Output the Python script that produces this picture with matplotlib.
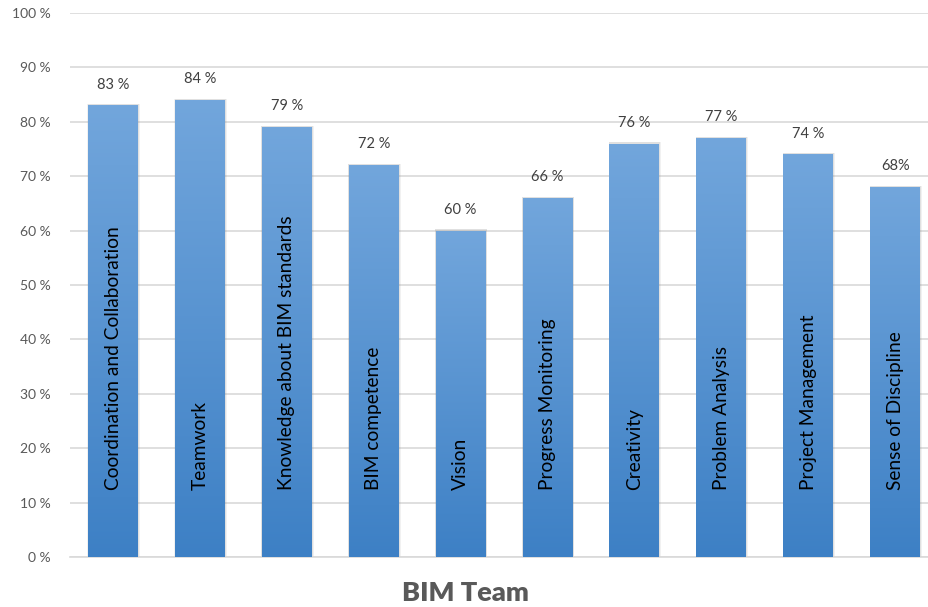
import numpy as np
import matplotlib
matplotlib.use("Agg")
import matplotlib.pyplot as plt
from matplotlib.patches import Rectangle
from matplotlib.colors import LinearSegmentedColormap

plt.rcParams["font.family"] = ["Lato", "DejaVu Sans"]

# ------------------------------------------------------------------ data
skills = [
    "Coordination and Collaboration",
    "Teamwork",
    "Knowledge about BIM standards",
    "BIM competence",
    "Vision",
    "Progress Monitoring",
    "Creativity",
    "Problem Analysis",
    "Project Management",
    "Sense of Discipline",
]
scores = [83, 84, 79, 72, 60, 66, 76, 77, 74, 68]
score_labels = ["83 %", "84 %", "79 %", "72 %", "60 %", "66 %", "76 %", "77 %", "74 %", "68%"]
yticks = [0, 10, 20, 30, 40, 50, 60, 70, 80, 90, 100]

# ---------------------------------------------------------------- styling
TOP_BLUE = "#72a6dc"
BOT_BLUE = "#3d80c5"
GRID = "#d9d9d9"
TICK_TXT = "#595959"
VAL_TXT = "#404040"
BAR_W = 0.575

fig = plt.figure(figsize=(9.29, 6.07), dpi=100)
ax = fig.add_axes([70 / 929, 50 / 607, 859 / 929, 544 / 607])

grad = LinearSegmentedColormap.from_list("bar", [BOT_BLUE, TOP_BLUE])
ramp = np.linspace(0, 1, 256).reshape(-1, 1)

x = np.arange(len(skills))
for xi, val, lab, name in zip(x, scores, score_labels, skills):
    left = xi - BAR_W / 2
    # soft drop shadow behind the bar
    for k, a in ((0.018, 0.10), (0.010, 0.14)):
        ax.add_patch(Rectangle((left - k * 0.4, 0), BAR_W + k * 1.6, val + 0.25,
                               color="#7f7f7f", alpha=a, lw=0, zorder=2))
    im = ax.imshow(ramp, cmap=grad, aspect="auto", origin="lower",
                   extent=(left, left + BAR_W, 0, val), zorder=3)
    clip = Rectangle((left, 0), BAR_W, val, transform=ax.transData,
                     facecolor="none", edgecolor="none")
    ax.add_patch(clip)
    im.set_clip_path(clip)

    ax.annotate(lab, xy=(xi, val), xytext=(0, 10), textcoords="offset points",
                ha="center", va="bottom", fontsize=10.5, color=VAL_TXT)
    ax.text(xi, 12.3, name, rotation=90, ha="center", va="bottom",
            fontsize=13.8, color="black", zorder=4)

ax.set_xlim(-0.495, 9.39)
ax.set_ylim(0, 100)
ax.set_yticks(yticks)
ax.set_yticklabels([f"{t} %" for t in yticks], fontsize=10, color=TICK_TXT)
ax.set_xticks([])
ax.tick_params(axis="y", length=0, pad=14)
ax.yaxis.grid(True, color=GRID, linewidth=1.2)
ax.set_axisbelow(True)
for side in ("top", "right", "left"):
    ax.spines[side].set_visible(False)
ax.spines["bottom"].set_color(GRID)
ax.spines["bottom"].set_linewidth(1.2)

fig.text(465 / 929, 1 - 593 / 607, "BIM Team", ha="center", va="center",
         fontsize=19.5, fontweight="heavy", color=TICK_TXT)

fig.savefig("out.png", dpi=100)
